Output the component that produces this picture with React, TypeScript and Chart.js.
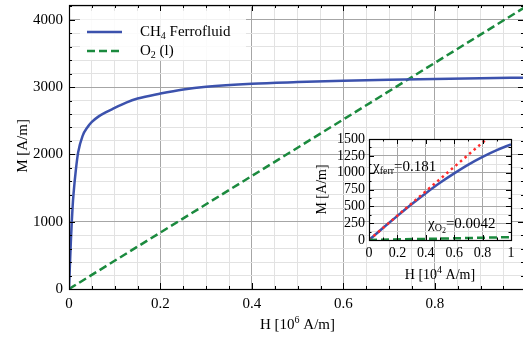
import { useEffect, useRef } from 'react';
import { Chart, registerables } from 'chart.js';

Chart.register(...registerables);

const FONT = '"Liberation Serif", "Times New Roman", serif';
const BLUE = '#3c52ad';
const GREEN = '#1b8a3e';
const RED = '#ff2a2a';

// Main chart data: H in 10^6 A/m, M in A/m
const ferroH = [0, 0.002, 0.004, 0.006, 0.008, 0.01, 0.015, 0.02, 0.03, 0.04, 0.05, 0.065, 0.08, 0.1, 0.125, 0.15, 0.2, 0.25, 0.3, 0.4, 0.5, 0.6, 0.7, 0.8, 0.9, 1.0];
const ferroM = [0, 358, 695, 990, 1235, 1420, 1770, 2030, 2280, 2400, 2483, 2565, 2625, 2690, 2770, 2830, 2904, 2965, 3005, 3050, 3075, 3095, 3110, 3122, 3132, 3140];
const o2H = [0, 1];
const o2M = [0, 4200];

// Inset data: H in 10^4 A/m
const insetH = [0, 0.1, 0.2, 0.3, 0.4, 0.5, 0.6, 0.7, 0.8, 0.9, 1.0];
const insetM = [0, 181, 358, 530, 695, 850, 990, 1120, 1235, 1335, 1420];
const insetO2H = [0, 1];
const insetO2M = [0, 42];
const chiLineH = [0, 1];
const chiLineM = [0, 1810];

// Ticks
const mainXMajor = [0, 0.2, 0.4, 0.6, 0.8];
const mainXLabels = ['0', '0.2', '0.4', '0.6', '0.8'];
const mainYMajor = [0, 1000, 2000, 3000, 4000];
const mainYLabels = ['0', '1000', '2000', '3000', '4000'];
const insetXMajor = [0, 0.2, 0.4, 0.6, 0.8, 1];
const insetXLabels = ['0', '0.2', '0.4', '0.6', '0.8', '1'];
const insetYMajor = [0, 250, 500, 750, 1000, 1250, 1500];
const insetYLabels = ['0', '250', '500', '750', '1000', '1250', '1500'];

const range = (a: number, b: number, step: number) => {
  const out: number[] = [];
  for (let i = 0; a + i * step <= b + 1e-9; i++) out.push(+(a + i * step).toFixed(6));
  return out;
};
const idxOf = (arr: number[], v: number) => arr.findIndex((m) => Math.abs(m - v) < 1e-6);
const pts = (xs: number[], ys: number[]) => xs.map((x, i) => ({ x, y: ys[i] }));

type Part = { t: string; s?: 'sub' | 'sup' | 'sub2' };
function drawRich(ctx: CanvasRenderingContext2D, parts: Part[], x: number, y: number, size: number, align: 'left' | 'center') {
  const fontFor = (p: Part) => `${p.s === 'sub2' ? Math.round(size * 0.5) : p.s ? Math.round(size * 0.68) : size}px ${FONT}`;
  const ws = parts.map((p) => { ctx.font = fontFor(p); return ctx.measureText(p.t).width; });
  const total = ws.reduce((a, b) => a + b, 0);
  let cx = align === 'center' ? x - total / 2 : x;
  ctx.textAlign = 'left';
  ctx.textBaseline = 'middle';
  ctx.fillStyle = '#000';
  parts.forEach((p, i) => {
    ctx.font = fontFor(p);
    const dy = p.s === 'sub' ? size * 0.3 : p.s === 'sub2' ? size * 0.45 : p.s === 'sup' ? -size * 0.32 : 0;
    ctx.fillText(p.t, cx, y + dy);
    cx += ws[i];
  });
}

function drawFrameAndTicks(chart: any, majX: number[], majY: number[], majLen: number, minLen: number) {
  const { ctx, chartArea: a } = chart;
  const xs = chart.scales.x;
  const ys = chart.scales.y;
  ctx.save();
  ctx.strokeStyle = '#000';
  ctx.lineWidth = 1;
  ctx.beginPath();
  xs.ticks.forEach((t: any) => {
    const px = Math.round(xs.getPixelForValue(t.value)) + 0.5;
    const len = idxOf(majX, t.value) >= 0 ? majLen : minLen;
    ctx.moveTo(px, a.bottom); ctx.lineTo(px, a.bottom - len);
    ctx.moveTo(px, a.top); ctx.lineTo(px, a.top + len);
  });
  ys.ticks.forEach((t: any) => {
    const py = Math.round(ys.getPixelForValue(t.value)) + 0.5;
    const len = idxOf(majY, t.value) >= 0 ? majLen : minLen;
    ctx.moveTo(a.left, py); ctx.lineTo(a.left + len, py);
    ctx.moveTo(a.right, py); ctx.lineTo(a.right - len, py);
  });
  ctx.stroke();
  ctx.lineWidth = 1.2;
  ctx.strokeRect(Math.round(a.left) + 0.5, Math.round(a.top) + 0.5, Math.round(a.right - a.left), Math.round(a.bottom - a.top));
  ctx.restore();
}

const mainPlugin = {
  id: 'mainDeco',
  afterDraw(chart: any) {
    const { ctx, chartArea: a } = chart;
    drawFrameAndTicks(chart, mainXMajor, mainYMajor, 6, 3);
    ctx.save();
    // legend box
    ctx.fillStyle = 'rgba(255,255,255,0.85)';
    ctx.beginPath();
    (ctx as any).roundRect ? (ctx as any).roundRect(80, 11, 166, 49, 3) : ctx.rect(80, 11, 166, 49);
    ctx.fill();
    ctx.lineWidth = 2.5;
    ctx.strokeStyle = BLUE;
    ctx.setLineDash([]);
    ctx.beginPath(); ctx.moveTo(87, 32); ctx.lineTo(122, 32); ctx.stroke();
    ctx.strokeStyle = GREEN;
    ctx.setLineDash([8, 4]);
    ctx.beginPath(); ctx.moveTo(87, 51); ctx.lineTo(122, 51); ctx.stroke();
    ctx.setLineDash([]);
    drawRich(ctx, [{ t: 'CH' }, { t: '4', s: 'sub' }, { t: ' Ferrofluid' }], 140, 32, 15, 'left');
    drawRich(ctx, [{ t: 'O' }, { t: '2', s: 'sub' }, { t: ' (l)' }], 140, 51, 15, 'left');
    // axis titles
    drawRich(ctx, [{ t: 'H [10' }, { t: '6', s: 'sup' }, { t: ' A/m]' }], (a.left + 526) / 2, 325, 15, 'center');
    ctx.translate(23, 146);
    ctx.rotate(-Math.PI / 2);
    drawRich(ctx, [{ t: 'M [A/m]' }], 0, 0, 15, 'center');
    ctx.restore();
  },
};

const insetPlugin = {
  id: 'insetDeco',
  beforeDraw(chart: any) {
    const { ctx, chartArea: a } = chart;
    ctx.save();
    ctx.fillStyle = '#fff';
    ctx.fillRect(a.left, a.top, a.right - a.left, a.bottom - a.top);
    ctx.restore();
  },
  afterDraw(chart: any) {
    const { ctx, chartArea: a } = chart;
    drawFrameAndTicks(chart, insetXMajor, insetYMajor, 5, 2.5);
    ctx.save();
    drawRich(ctx, [{ t: 'χ' }, { t: 'ferr', s: 'sub' }, { t: '=0.181' }], a.left + 4, 47, 15, 'left');
    drawRich(ctx, [{ t: 'χ' }, { t: 'O', s: 'sub' }, { t: '2', s: 'sub2' }, { t: '=0.0042' }], a.left + 59, 104, 15, 'left');
    drawRich(ctx, [{ t: 'H [10' }, { t: '4', s: 'sup' }, { t: ' A/m]' }], (a.left + a.right) / 2, 155, 14, 'center');
    ctx.translate(22, (a.top + a.bottom) / 2);
    ctx.rotate(-Math.PI / 2);
    drawRich(ctx, [{ t: 'M [A/m]' }], 0, 0, 14, 'center');
    ctx.restore();
  },
};

function axisCfg(
  min: number, max: number, step: number, majors: number[], labels: string[],
  fontSize: number, pad: number, fit: (s: any) => void,
) {
  return {
    type: 'linear' as const,
    min,
    max,
    afterBuildTicks: (s: any) => { s.ticks = range(min, max, step).map((v) => ({ value: v })); },
    afterFit: (s: any) => {
      fit(s);
      s.paddingTop = 0; s.paddingBottom = 0; s.paddingLeft = 0; s.paddingRight = 0;
    },
    border: { display: false },
    grid: {
      drawTicks: false,
      lineWidth: 1,
      color: (c: any) => (c.tick && idxOf(majors, c.tick.value) >= 0 ? '#a6a6a6' : '#e2e2e2'),
    },
    ticks: {
      autoSkip: false,
      maxRotation: 0,
      padding: pad,
      color: '#000',
      font: { family: FONT, size: fontSize },
      callback: (v: any) => { const i = idxOf(majors, Number(v)); return i >= 0 ? labels[i] : ''; },
    },
  };
}

export default function App() {
  const mainRef = useRef<HTMLCanvasElement>(null);
  const insetRef = useRef<HTMLCanvasElement>(null);

  useEffect(() => {
    const main = new Chart(mainRef.current!, {
      type: 'scatter',
      data: {
        datasets: [
          { label: 'CH4 Ferrofluid', data: pts(ferroH, ferroM), showLine: true, borderColor: BLUE, borderWidth: 2.5, pointRadius: 0, cubicInterpolationMode: 'monotone' },
          { label: 'O2 (l)', data: pts(o2H, o2M), showLine: true, borderColor: GREEN, borderWidth: 2.5, borderDash: [8, 4], pointRadius: 0 },
        ],
      } as any,
      options: {
        responsive: false,
        animation: false,
        devicePixelRatio: 1,
        layout: { padding: { top: 5, right: 1, left: 0, bottom: 0 } },
        plugins: { legend: { display: false }, tooltip: { enabled: false } },
        scales: {
          x: axisCfg(0, 0.995, 0.05, mainXMajor, mainXLabels, 15, 6, (s: any) => { s.height = 50; }),
          y: axisCfg(0, 4220, 200, mainYMajor, mainYLabels, 15, 6, (s: any) => { s.width = 69; }),
        },
      } as any,
      plugins: [mainPlugin],
    });

    const inset = new Chart(insetRef.current!, {
      type: 'scatter',
      data: {
        datasets: [
          { data: pts(insetO2H, insetO2M), showLine: true, borderColor: GREEN, borderWidth: 2.5, borderDash: [8, 4], pointRadius: 0 },
          { data: pts(chiLineH, chiLineM), showLine: true, borderColor: RED, borderWidth: 2.5, borderDash: [2.5, 3.5], pointRadius: 0 },
          { data: pts(insetH, insetM), showLine: true, borderColor: BLUE, borderWidth: 2.5, pointRadius: 0, cubicInterpolationMode: 'monotone' },
        ],
      } as any,
      options: {
        responsive: false,
        animation: false,
        devicePixelRatio: 1,
        layout: { padding: { top: 19, right: 12, left: 0, bottom: 0 } },
        plugins: { legend: { display: false }, tooltip: { enabled: false } },
        scales: {
          x: axisCfg(0, 1, 0.1, insetXMajor, insetXLabels, 14, 5, (s: any) => { s.height = 99; }),
          y: axisCfg(0, 1500, 125, insetYMajor, insetYLabels, 14, 4, (s: any) => { s.width = 69; }),
        },
      } as any,
      plugins: [insetPlugin],
    });

    return () => { main.destroy(); inset.destroy(); };
  }, []);

  return (
    <div style={{ position: 'fixed', left: 0, top: 0, width: 525, height: 339, background: '#fff', overflow: 'hidden' }}>
      <canvas ref={mainRef} width={525} height={339} style={{ position: 'absolute', left: 0, top: 0, width: 525, height: 339 }} />
      <canvas ref={insetRef} width={223} height={219} style={{ position: 'absolute', left: 300, top: 120, width: 223, height: 219 }} />
    </div>
  );
}
